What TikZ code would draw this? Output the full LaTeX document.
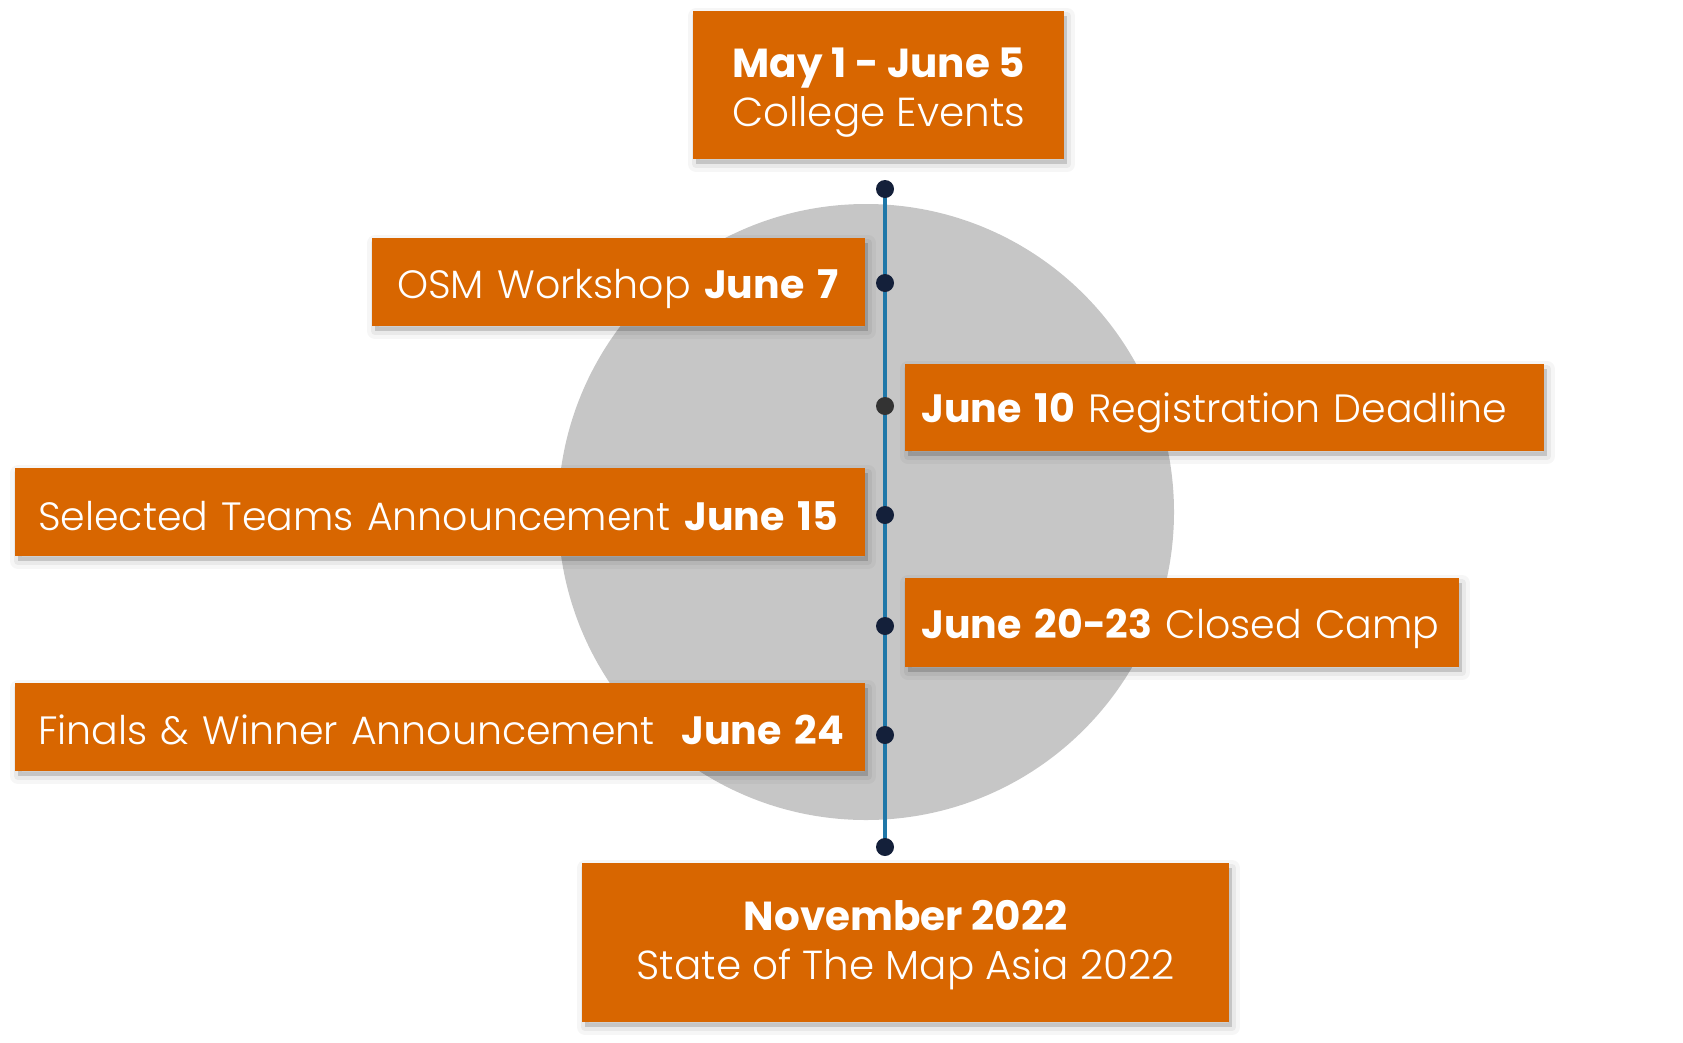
\documentclass[tikz,border=0pt]{standalone}
\usepackage{fontspec}
\setmainfont{Poppins Light}[BoldFont={Poppins Bold}]
\usetikzlibrary{shadows}
\definecolor{orng}{HTML}{D86600}
\definecolor{circgray}{HTML}{C6C6C6}
\definecolor{lineblue}{HTML}{1F77A8}
\definecolor{navy}{HTML}{14203A}
\definecolor{dgray}{HTML}{333333}
\newcommand{\dn}[2]{\raisebox{-#1pt}[\height][\depth]{#2}}
\tikzset{
  softshadow/.style={
    general shadow={fill=black, draw=black, opacity=0.035, line width=16pt, line join=round, shadow xshift=3pt, shadow yshift=-5pt},
    general shadow={fill=black, draw=black, opacity=0.05, line width=8pt, line join=round, shadow xshift=3pt, shadow yshift=-5pt},
    general shadow={fill=black, opacity=0.08, shadow xshift=3pt, shadow yshift=-5pt}},
  box/.style={fill=orng, text=white, inner sep=0pt, anchor=north west,
    font=\fontsize{39.5}{50}\selectfont, softshadow},
  bigbox/.style={box, font=\fontsize{40.5}{49}\selectfont, align=center},
  dot/.style={circle, fill=navy, inner sep=0pt, minimum size=18pt},
  tl/.style={draw=lineblue, line width=4pt}
}
\begin{document}
\begin{tikzpicture}[x=1pt,y=-1pt]
\useasboundingbox (0,0) rectangle (1683,1042);
\fill[circgray] (866,512) circle (308);
% timeline
\coordinate (c1) at (885,189);
\coordinate (c7) at (885,847);
\draw[tl] (c1) -- (c7);
\node[dot] (d1) at (c1) {};
\node[dot] (d2) at (885,283) {};
\node[dot, fill=dgray] (d3) at (885,406) {};
\node[dot] (d4) at (885,515) {};
\node[dot] (d5) at (885,626) {};
\node[dot] (d6) at (885,735) {};
\node[dot] (d7) at (c7) {};
% boxes
\node[bigbox, minimum width=371pt, minimum height=148pt] (top) at (693,11) {\dn{7}{\textbf{May 1 - June 5}}\\\dn{7}{College Events}};
\node[box, minimum width=493pt, minimum height=88pt, inner xsep=25pt, text width=443pt, align=left] (osm) at (372,238) {\dn{7}{OSM Workshop \textbf{June 7}}};
\node[box, minimum width=639pt, minimum height=87pt, inner xsep=16pt, text width=607pt, align=left] (reg) at (905,364) {\dn{5}{\textbf{June 10} Registration Deadline}};
\node[box, minimum width=850pt, minimum height=88pt, inner xsep=23pt, text width=804pt, align=left] (sel) at (15,468) {\dn{4}{Selected Teams Announcement \textbf{June 15}}};
\node[box, minimum width=554pt, minimum height=89pt, inner xsep=16pt, text width=522pt, align=left] (camp) at (905,578) {\dn{6}{\textbf{June 20-23} Closed Camp}};
\node[box, minimum width=850pt, minimum height=88pt, inner xsep=23pt, text width=804pt, align=left] (fin) at (15,683) {\dn{3}{Finals \& Winner Announcement\ \ \textbf{June 24}}};
\node[bigbox, minimum width=647pt, minimum height=159pt] (nov) at (582,863) {\dn{2}{\textbf{November 2022}}\\\dn{2}{State of The Map Asia 2022}};
\end{tikzpicture}
\end{document}
